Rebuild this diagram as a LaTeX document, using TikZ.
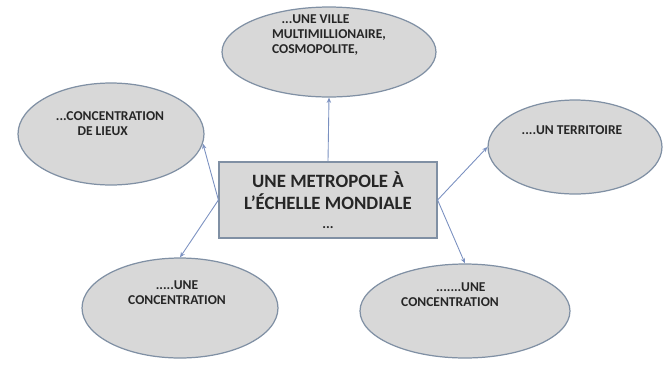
\documentclass[tikz,border=0pt]{standalone}
\usepackage{fontspec}
\setmainfont{Carlito}
\usepackage{xcolor}
\usepackage{tikz}
\usetikzlibrary{arrows.meta,shapes.geometric}
\definecolor{fillg}{HTML}{D8D8D8}
\definecolor{edge}{HTML}{8090A4}
\definecolor{link}{HTML}{7A90C0}
\definecolor{ink}{HTML}{262626}
\tikzset{
  bubble/.style={ellipse, draw=edge, fill=fillg, line width=0.7pt, inner sep=0pt},
  box/.style={rectangle, draw=edge, fill=fillg, line width=0.7pt, inner sep=0pt,
    minimum width=4.36cm, minimum height=1.52cm},
  arr/.style={draw=link, line width=0.5pt, -{Stealth[length=3pt,width=2.5pt]}},
  lab/.style={text=ink, font=\fontsize{7.7}{8.6}\selectfont\bfseries, inner sep=0pt},
  labc/.style={text=ink, font=\fontsize{10.7}{12.8}\selectfont\bfseries, align=center, inner sep=0pt},
}
\begin{document}
\begin{tikzpicture}[x=0.02cm,y=-0.02cm]
  \useasboundingbox (0,0) rectangle (663,366);
  \node[box] (core) at (328,200) {};
  \node[labc] (coret) at (328,200) {UNE METROPOLE À\\L’ÉCHELLE MONDIALE\\[-2pt]{\fontsize{8}{9}\selectfont ...}};
  \node[bubble, minimum width=4.28cm, minimum height=1.80cm] (ville) at (329,52) {};
  \node[bubble, minimum width=3.72cm, minimum height=2.04cm] (lieux) at (111,134) {};
  \node[bubble, minimum width=3.48cm, minimum height=1.88cm] (terr) at (575,147) {};
  \node[bubble, minimum width=3.92cm, minimum height=2.00cm] (conca) at (180,308) {};
  \node[bubble, minimum width=4.20cm, minimum height=1.88cm] (concb) at (465,311) {};
  \node[lab, align=left] (villet) at (329,35) {\hspace*{0.7em}...UNE VILLE\\MULTIMILLIONAIRE,\\COSMOPOLITE,};
  \node[lab, align=left] (lieuxt) at (110,124) {...CONCENTRATION\\\hspace*{1.6em}DE LIEUX};
  \node[lab] (terrt) at (572,130) {....UN TERRITOIRE};
  \node[lab, align=center] (concat) at (177,293) {.....UNE\\CONCENTRATION};
  \node[lab, align=center] (concbt) at (450,295) {\hspace*{1.6em}.......UNE\\CONCENTRATION};
  \draw[arr] (core.north) -- (ville.south);
  \draw[arr] (core.west) -- (lieux.-6);
  \draw[arr] (core.west) -- (conca.north);
  \draw[arr] (core.east) -- (terr.west);
  \draw[arr] (core.east) -- (concb.north);
\end{tikzpicture}
\end{document}
